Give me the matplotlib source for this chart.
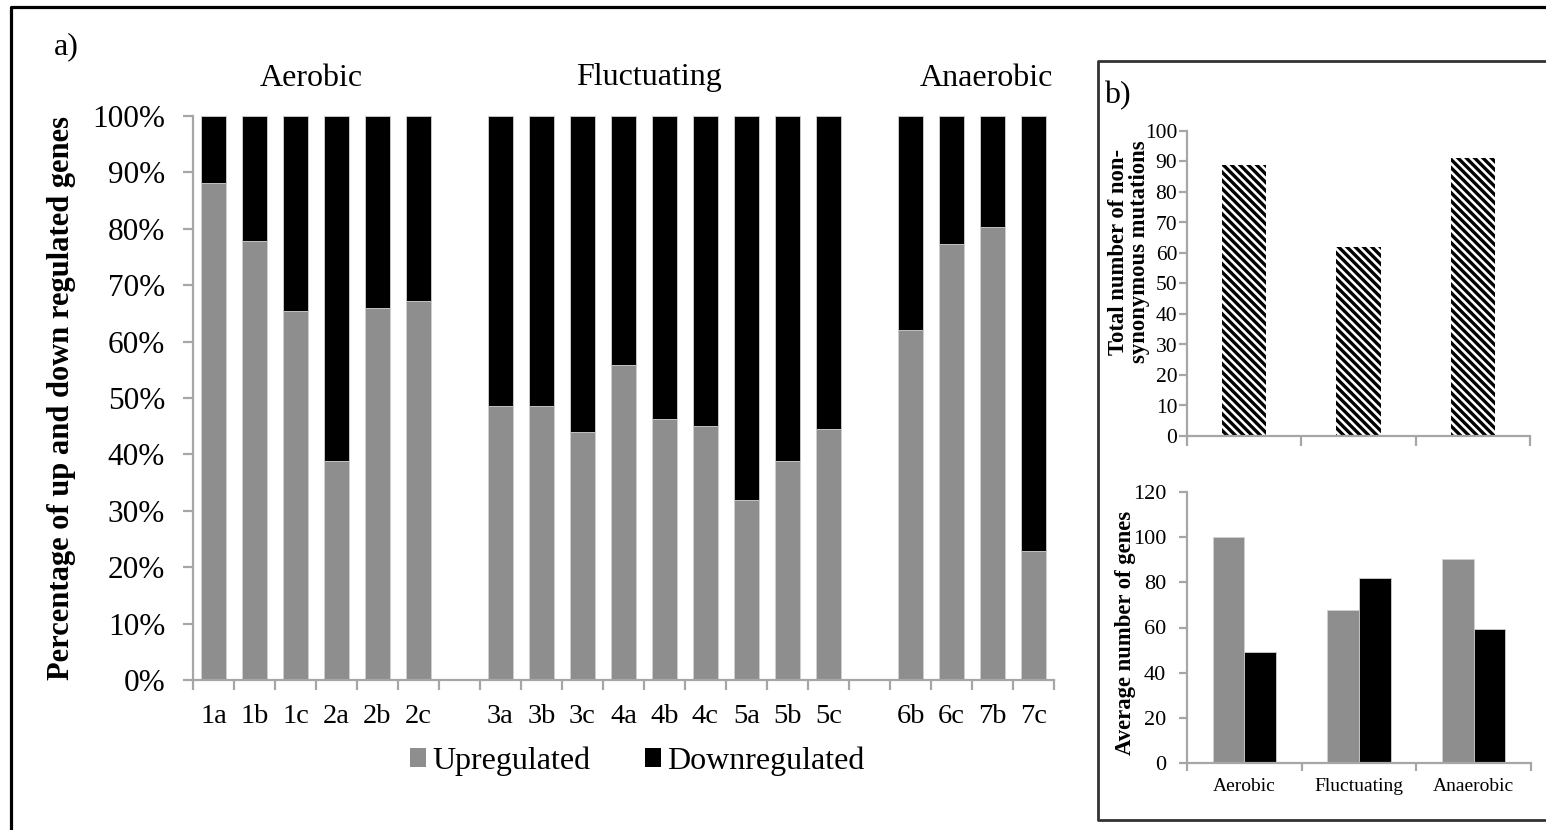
import matplotlib
matplotlib.use('Agg')
import matplotlib.pyplot as plt
import matplotlib.transforms as mtransforms
from matplotlib.patches import Patch
from matplotlib.lines import Line2D
import numpy as np

# ---------------- data ----------------
samples = ['1a', '1b', '1c', '2a', '2b', '2c',
           '3a', '3b', '3c', '4a', '4b', '4c', '5a', '5b', '5c',
           '6b', '6c', '7b', '7c']
sample_group = [0, 0, 0, 0, 0, 0,
                1, 1, 1, 1, 1, 1, 1, 1, 1,
                2, 2, 2, 2]
up_pct = [88.2, 77.9, 65.4, 38.8, 66.0, 67.2,
          48.5, 48.5, 43.9, 55.8, 46.2, 45.0, 32.0, 38.8, 44.5,
          62.1, 77.3, 80.3, 22.9]
down_pct = [11.8, 22.1, 34.6, 61.2, 34.0, 32.8,
            51.5, 51.5, 56.1, 44.2, 53.8, 55.0, 68.0, 61.2, 55.5,
            37.9, 22.7, 19.7, 77.1]
conditions = ['Aerobic', 'Fluctuating', 'Anaerobic']
nonsyn_mutations = [89, 62, 91]
avg_up_genes = [100, 67.6, 90.2]
avg_down_genes = [49.3, 81.8, 59.2]
pct_ticks = [0, 10, 20, 30, 40, 50, 60, 70, 80, 90, 100]
pct_tick_labels = [f'{v}%' for v in pct_ticks]

# ---------------- style ----------------
plt.rcParams['font.family'] = ['Liberation Serif', 'DejaVu Serif']
plt.rcParams['hatch.linewidth'] = 2.4

W, H = 1546, 830
fig = plt.figure(figsize=(W / 100, H / 100), dpi=100)
GRAY = '#8e8e8e'
AXC = '#a6a6a6'


def rect(x0, y0, x1, y1):
    return [x0 / W, 1 - y1 / H, (x1 - x0) / W, (y1 - y0) / H]


def style_axes(ax):
    for s in ['top', 'right']:
        ax.spines[s].set_visible(False)
    for s in ['left', 'bottom']:
        ax.spines[s].set_color(AXC)
        ax.spines[s].set_linewidth(1.6)


# ---------------- panel a ----------------
ax = fig.add_axes(rect(193, 116, 1054, 680))
pos = np.array([i + g for i, g in enumerate(sample_group)]) + 0.5
ax.bar(pos, up_pct, width=0.63, color=GRAY, edgecolor='#d0d0d0', linewidth=0.6)
ax.bar(pos, down_pct, bottom=up_pct, width=0.63, color='black',
       edgecolor='#d0d0d0', linewidth=0.6)
ax.set_xlim(0, 21)
ax.set_ylim(0, 100)
style_axes(ax)
ax.set_yticks(pct_ticks, pct_tick_labels)
ax.tick_params(axis='y', length=7, width=1.6, color=AXC, labelsize=22.5, pad=13)
ax.set_xticks(np.arange(0, 22))
ax.set_xticklabels([])
ax.tick_params(axis='x', which='major', length=7, width=1.6, color=AXC)
ax.set_xticks(pos, samples, minor=True)
ax.tick_params(axis='x', which='minor', length=0, labelsize=20.5, pad=17)

blend = mtransforms.blended_transform_factory(ax.transData, fig.transFigure)
group_x = [2.88, 11.12, 19.34]
for gx, name in zip(group_x, conditions):
    ax.text(gx, 1 - 78 / H, name, transform=blend, ha='center', va='center',
            fontsize=23)

fig.text(62 / W, 1 - 398 / H, 'Percentage of up and down regulated genes',
         rotation=90, ha='center', va='center', fontsize=22, fontweight='bold')
fig.text(66 / W, 1 - 47 / H, 'a)', ha='center', va='center', fontsize=23)

fig.legend(handles=[Patch(facecolor=GRAY), Patch(facecolor='black')],
           labels=['Upregulated', 'Downregulated'], loc='center',
           bbox_to_anchor=(637 / W, 1 - 761 / H), ncol=2, frameon=False,
           fontsize=23, handlelength=0.5, handleheight=0.5,
           handletextpad=0.2, columnspacing=1.7)

# ---------------- panel b (top) ----------------
ax2 = fig.add_axes(rect(1187, 131, 1530, 436))
cpos = np.arange(len(conditions)) + 0.5
ax2.bar(cpos, nonsyn_mutations, width=0.39, facecolor='white',
        edgecolor='black', linewidth=0, hatch='\\\\\\\\')
ax2.set_xlim(0, 3)
ax2.set_ylim(0, 100)
style_axes(ax2)
ax2.set_yticks(np.arange(0, 101, 10))
ax2.tick_params(axis='y', length=6, width=1.6, color=AXC, labelsize=15.5, pad=1)
ax2.set_xticks(np.arange(0, 4))
ax2.set_xticklabels([])
ax2.tick_params(axis='x', length=7, width=1.6, color=AXC)
fig.text(1129 / W, 1 - 252 / H, 'Total number of non-\nsynonymous mutations',
         rotation=90, ha='center', va='center', fontsize=16.3,
         fontweight='bold', linespacing=1.05, multialignment='center')
fig.text(1117 / W, 1 - 96 / H, 'b)', ha='center', va='center', fontsize=23)

# ---------------- panel b (bottom) ----------------
ax3 = fig.add_axes(rect(1187, 492, 1531, 763))
ax3.bar(cpos - 0.1375, avg_up_genes, width=0.275, color=GRAY,
        edgecolor='#d0d0d0', linewidth=0.6)
ax3.bar(cpos + 0.1375, avg_down_genes, width=0.275, color='black',
        edgecolor='#d0d0d0', linewidth=0.6)
ax3.set_xlim(0, 3)
ax3.set_ylim(0, 120)
style_axes(ax3)
ax3.set_yticks(np.arange(0, 121, 20))
ax3.tick_params(axis='y', length=6, width=1.6, color=AXC, labelsize=16, pad=9)
ax3.set_xticks(np.arange(0, 4))
ax3.set_xticklabels([])
ax3.tick_params(axis='x', which='major', length=6, width=1.6, color=AXC)
ax3.set_xticks(cpos, conditions, minor=True)
ax3.tick_params(axis='x', which='minor', length=0, labelsize=14, pad=11)
fig.text(1125 / W, 1 - 633 / H, 'Average number of genes',
         rotation=90, ha='center', va='center', fontsize=16.3,
         fontweight='bold')

# ---------------- frames ----------------
fig.add_artist(Line2D([11 / W, 11 / W, 1.01], [-0.01, 1 - 7 / H, 1 - 7 / H],
                      transform=fig.transFigure, color='black', linewidth=2.3))
fig.add_artist(Line2D([1.01, 1098 / W, 1098 / W, 1.01],
                      [1 - 61 / H, 1 - 61 / H, 1 - 820 / H, 1 - 820 / H],
                      transform=fig.transFigure, color='#333333', linewidth=2.0))

fig.savefig('out.png', dpi=100)
